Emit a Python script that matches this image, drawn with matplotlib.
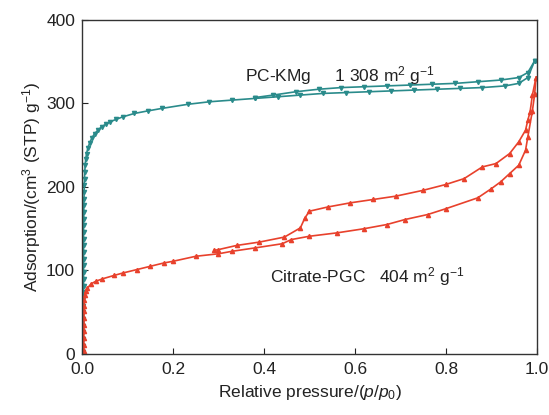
import numpy as np
import matplotlib
matplotlib.use("Agg")
import matplotlib.pyplot as plt

plt.rcParams['font.family'] = ['Liberation Sans', 'DejaVu Sans']
plt.rcParams['mathtext.fontset'] = 'custom'
plt.rcParams['mathtext.rm'] = 'Liberation Sans'
plt.rcParams['mathtext.it'] = 'Liberation Sans:italic'

# PC-KMg isotherm (adsorption then desorption)
pc_ads_p = [0.003, 0.003, 0.003, 0.003, 0.003, 0.003, 0.003, 0.003, 0.003, 0.003,
            0.0035, 0.0035, 0.0035, 0.0035, 0.0035, 0.0035, 0.0035, 0.0035, 0.0035, 0.0035,
            0.004, 0.004, 0.004, 0.0045, 0.0045, 0.005, 0.0055, 0.006, 0.007, 0.008,
            0.01, 0.013, 0.017, 0.022, 0.028, 0.035, 0.043, 0.052, 0.062, 0.075,
            0.09, 0.115, 0.144, 0.175, 0.233, 0.28, 0.33, 0.38, 0.43, 0.48, 0.53,
            0.58, 0.63, 0.68, 0.73, 0.78, 0.83, 0.88, 0.93, 0.96, 0.98, 0.995]
pc_ads_v = [2, 10, 18, 26, 34, 42, 50, 58, 66, 74,
            82, 90, 98, 106, 114, 122, 130, 138, 146, 154,
            162, 170, 178, 186, 194, 202, 210, 218, 226, 233,
            240, 247, 253, 259, 264, 268, 272, 275, 278, 281,
            284, 288, 291, 294, 299, 302, 304, 306, 308, 310, 312,
            313, 314, 315, 316, 317, 318, 319, 321, 324, 331, 351]
pc_des_p = [0.995, 0.98, 0.96, 0.92, 0.87, 0.82, 0.77, 0.72, 0.67, 0.62, 0.57, 0.52,
            0.47, 0.42, 0.38]
pc_des_v = [351, 337, 331, 328, 326, 324, 323, 322, 321, 320, 319, 317,
            314, 310, 307]

# Citrate-PGC isotherm
cp_ads_p = [0.004, 0.004, 0.004, 0.004, 0.0045, 0.0045, 0.0045, 0.005, 0.005, 0.006,
            0.008, 0.012, 0.02, 0.03, 0.045, 0.07, 0.09, 0.12, 0.15, 0.18, 0.2, 0.25,
            0.3, 0.33, 0.38, 0.44, 0.46, 0.5, 0.56, 0.62, 0.67, 0.71, 0.76, 0.8, 0.87,
            0.9, 0.92, 0.94, 0.96, 0.975, 0.98, 0.99, 0.995, 0.998]
cp_ads_v = [3, 11, 19, 27, 35, 43, 51, 58, 65, 71,
            75, 79, 84, 87, 90, 94, 97, 101, 105, 109, 111, 117,
            120, 123, 127, 132, 137, 141, 145, 150, 155, 161, 167, 174, 187,
            198, 206, 216, 226, 244, 260, 291, 311, 331]
cp_des_p = [0.998, 0.99, 0.985, 0.98, 0.975, 0.96, 0.94, 0.91, 0.88, 0.84, 0.8, 0.75,
            0.69, 0.64, 0.59, 0.54, 0.5, 0.49, 0.48, 0.445, 0.39, 0.34, 0.3, 0.29]
cp_des_v = [331, 310, 290, 280, 268, 254, 240, 228, 224, 210, 203, 196,
            189, 185, 181, 176, 171, 163, 151, 140, 134, 130, 125, 124]

teal = '#2a8b8b'
red = '#e8412c'

fig = plt.figure(figsize=(5.49, 4.15), dpi=100)
ax = fig.add_axes([0.1494, 0.147, 0.8286, 0.805])

ax.plot(pc_ads_p, pc_ads_v, color=teal, lw=1.2, marker='v', ms=3)
ax.plot(pc_des_p, pc_des_v, color=teal, lw=1.2, marker='v', ms=3)
ax.plot(cp_ads_p, cp_ads_v, color=red, lw=1.2, marker='^', ms=3)
ax.plot(cp_des_p, cp_des_v, color=red, lw=1.2, marker='^', ms=3)

ax.text(0.358, 333, 'PC-KMg     1 308 m$^2$ g$^{-1}$', fontsize=12.5, color='#222222',
        ha='left', va='center')
ax.text(0.413, 93, 'Citrate-PGC   404 m$^2$ g$^{-1}$', fontsize=12.5, color='#222222',
        ha='left', va='center')

ax.set_xlim(0, 1.0)
ax.set_ylim(0, 400)
ax.set_xticks([0.0, 0.2, 0.4, 0.6, 0.8, 1.0])
ax.set_xticklabels(['0.0', '0.2', '0.4', '0.6', '0.8', '1.0'])
ax.set_yticks([0, 100, 200, 300, 400])
ax.tick_params(direction='in', labelsize=12.5, length=4, colors='#222222')
ax.tick_params(axis='x', pad=6)
ax.tick_params(axis='y', pad=5)
ax.set_xlabel('Relative pressure/($\\mathit{p}$/$\\mathit{p}_0$)', fontsize=12.5, color='#222222',
              labelpad=4)
ax.set_ylabel('Adsorption/(cm$^3$ (STP) g$^{-1}$)', fontsize=12.5, color='#222222',
              labelpad=2)
for s in ax.spines.values():
    s.set_color('#333333')
    s.set_linewidth(1.0)

fig.savefig('out.png', dpi=100)
